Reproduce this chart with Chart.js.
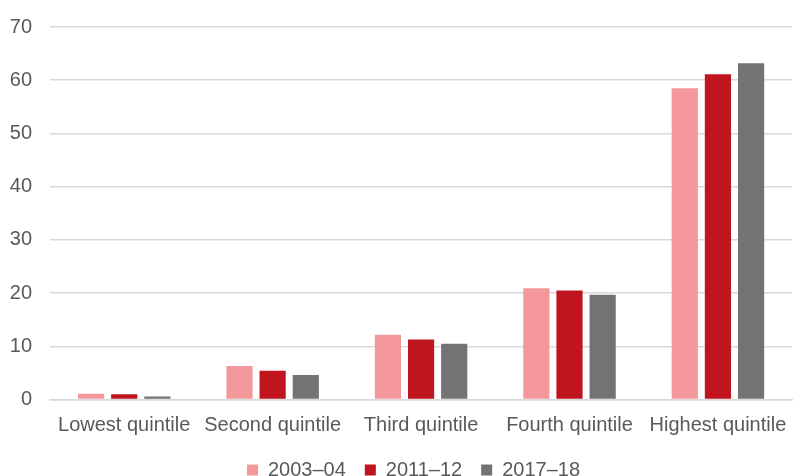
<!DOCTYPE html>
<html>
<head>
<meta charset="utf-8">
<script src="https://cdn.jsdelivr.net/npm/chart.js@4/dist/chart.umd.min.js"></script>
<style>
  html, body { margin: 0; padding: 0; background: #ffffff; overflow: hidden; }
  #wrap { width: 800px; height: 476px; position: relative; }
</style>
</head>
<body>
<div id="wrap"><canvas id="chart"></canvas></div>
<script>
// Household quintiles and the share in each survey year
const categories = ['Lowest quintile', 'Second quintile', 'Third quintile', 'Fourth quintile', 'Highest quintile'];
const seriesNames = ['2003–04', '2011–12', '2017–18'];
const values2003 = [1.1, 6.3, 12.2, 20.9, 58.5];
const values2011 = [1.0, 5.4, 11.3, 20.5, 61.1];
const values2017 = [0.6, 4.6, 10.5, 19.7, 63.2];
const yTicks = [0, 10, 20, 30, 40, 50, 60, 70];

const colours = ['#F4979B', '#C0141E', '#737373'];
const textColour = '#595959';
const fontFamily = '"Liberation Sans", Arial, sans-serif';

// Nudge the legend so it sits centred under the bars, just above the bottom edge
const legendOffset = {
  id: 'legendOffset',
  afterLayout(chart) {
    const lg = chart.legend;
    if (!lg) return;
    lg.left += 13.5;
    lg.right += 13.5;
    lg.top -= 10;
    lg.bottom -= 10;
  }
};

const seriesData = [values2003, values2011, values2017];

new Chart(document.getElementById('chart'), {
  type: 'bar',
  data: {
    labels: categories,
    datasets: seriesNames.map((name, i) => ({
      label: name,
      data: seriesData[i],
      backgroundColor: colours[i],
      borderWidth: 0,
      categoryPercentage: 0.67,
      barPercentage: 0.79
    }))
  },
  options: {
    responsive: true,
    maintainAspectRatio: false,
    animation: false,
    layout: { padding: { top: 21, right: 0, left: 0, bottom: -24 } },
    plugins: {
      legend: {
        position: 'bottom',
        labels: {
          boxWidth: 11,
          boxHeight: 11,
          padding: 19,
          color: textColour,
          font: { family: fontFamily, size: 20 }
        }
      },
      tooltip: { enabled: false }
    },
    scales: {
      x: {
        grid: { display: false, drawTicks: false },
        border: { display: true, color: '#D9D9D9', width: 1.5 },
        ticks: {
          color: textColour,
          font: { family: fontFamily, size: 20 },
          padding: 13.7,
          maxRotation: 0,
          autoSkip: false
        }
      },
      y: {
        min: 0,
        max: 70,
        afterFit(scale) { scale.width = 50; },
        afterBuildTicks(scale) { scale.ticks = yTicks.map(v => ({ value: v })); },
        grid: { color: '#D9D9D9', lineWidth: 1.5, drawTicks: false },
        border: { display: false },
        ticks: {
          color: textColour,
          font: { family: fontFamily, size: 20, lineHeight: 0.9 },
          padding: 18
        }
      }
    }
  },
  plugins: [legendOffset]
});
</script>
</body>
</html>
